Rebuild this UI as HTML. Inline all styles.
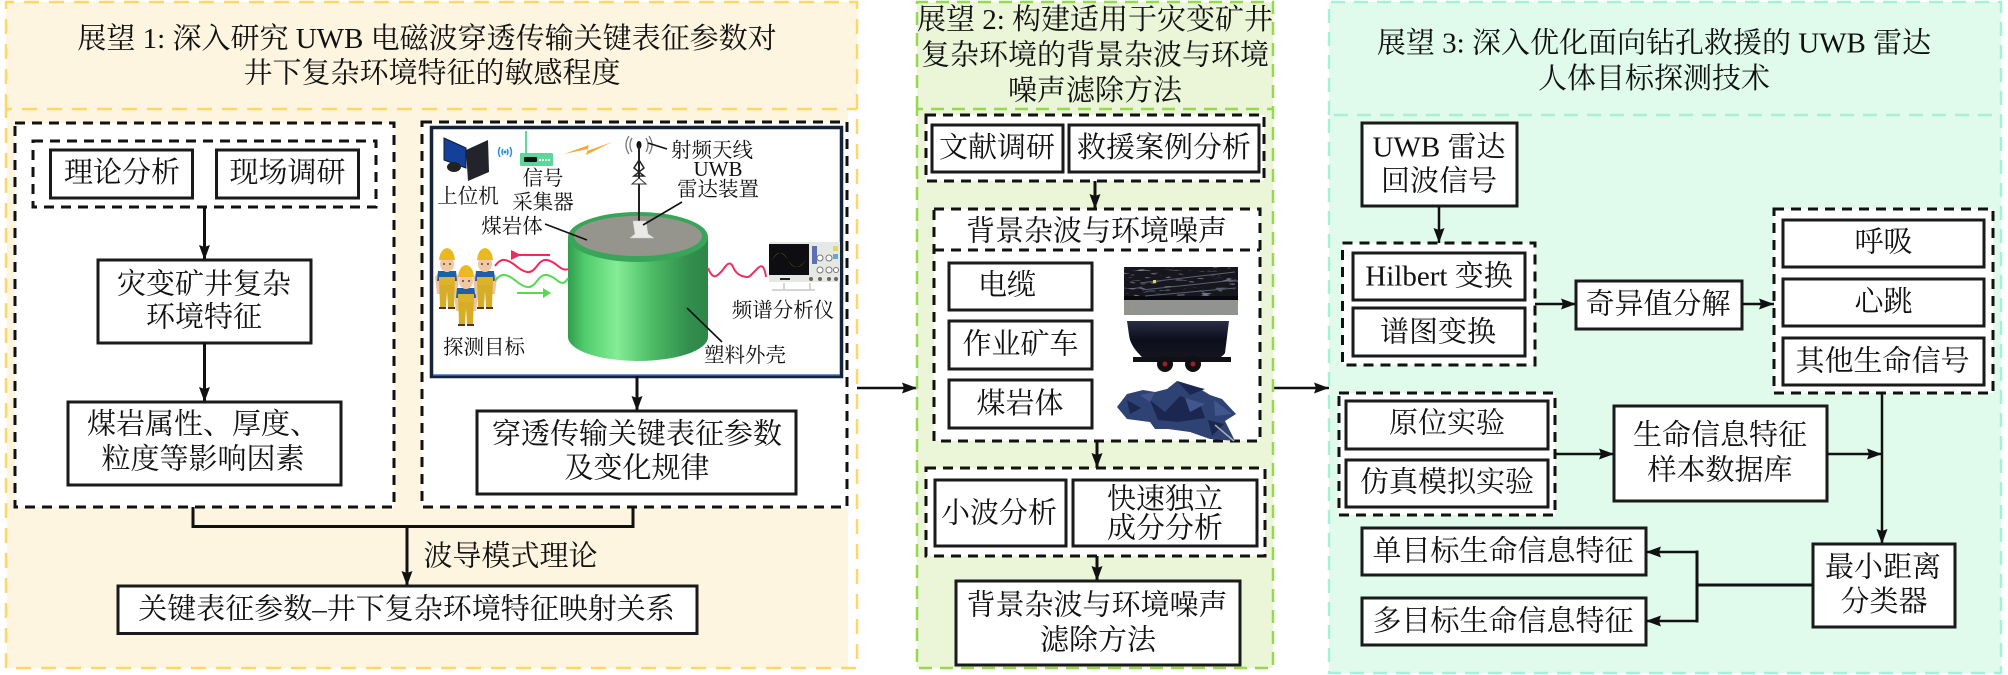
<!DOCTYPE html>
<html lang="zh">
<head>
<meta charset="utf-8">
<title>展望</title>
<style>
html,body{margin:0;padding:0;background:#fff;width:2008px;height:675px;overflow:hidden}
svg{display:block}
text{font-family:"Liberation Serif","Noto Serif CJK SC",serif;font-size:29px;fill:#111;text-anchor:middle;white-space:pre}
.s{font-size:20.5px}
.b{fill:#fff;stroke:#1a1a1a;stroke-width:3}
.d{fill:#fff;stroke:#111;stroke-width:3;stroke-dasharray:10 7}
.n{fill:none;stroke:#111;stroke-width:3}
.a{fill:none;stroke:#111;stroke-width:3;marker-end:url(#m)}
.a2{fill:none;stroke:#111;stroke-width:2.5;marker-end:url(#m)}
.l{fill:none;stroke:#111;stroke-width:1.6}
</style>
</head>
<body>
<svg xmlns="http://www.w3.org/2000/svg" width="2008" height="675" viewBox="0 0 2008 675">
<defs>
<marker id="m" markerUnits="userSpaceOnUse" markerWidth="15" markerHeight="12" refX="15" refY="6" orient="auto"><path d="M0 0.5L15 6L0 11.500L2 6Z" fill="#111"/></marker>
<marker id="mr" markerUnits="userSpaceOnUse" markerWidth="10" markerHeight="10" refX="2" refY="5" orient="auto"><path d="M10 0L0 5L10 10Z" fill="#f2285a"/></marker>
<linearGradient id="cyl" x1="0" x2="1" y1="0" y2="0">
<stop offset="0" stop-color="#2f9d4e"/><stop offset=".12" stop-color="#50cc6c"/><stop offset=".35" stop-color="#86ec96"/><stop offset=".6" stop-color="#4dbb66"/><stop offset=".85" stop-color="#33904f"/><stop offset="1" stop-color="#2d8548"/>
</linearGradient>
<filter id="gravel" x="0" y="0" width="100%" height="100%">
<feTurbulence type="fractalNoise" baseFrequency=".5" numOctaves="2" seed="4"/>
<feColorMatrix values="0 0 0 0 .3  0 0 0 0 .3  0 0 0 0 .27  2.600 0 0 0 -.8"/>
<feComposite in2="SourceGraphic" operator="in"/>
<feMerge><feMergeNode in="SourceGraphic"/><feMergeNode/></feMerge>
</filter>
<filter id="rock" x="0" y="0" width="100%" height="100%">
<feTurbulence type="fractalNoise" baseFrequency=".08 .4" numOctaves="2" seed="7"/>
<feColorMatrix values="0 0 0 0 .42  0 0 0 0 .45  0 0 0 0 .6  3 0 0 0 -1.900"/>
<feComposite in2="SourceGraphic" operator="in"/>
<feMerge><feMergeNode in="SourceGraphic"/><feMergeNode/></feMerge>
</filter>
<linearGradient id="cart" x1="0" x2="0" y1="0" y2="1"><stop offset="0" stop-color="#2b2e44"/><stop offset=".5" stop-color="#0d0e1c"/><stop offset="1" stop-color="#14151f"/></linearGradient>
<g id="p">
<path d="M-6 22L-9 20L-12 24L-10 41L-7 41ZM6 22L9 20L12 24L10 41L7 41Z" fill="#efc49f"/>
<path d="M-9 18H9L10 28H-10Z" fill="#1f5ea8"/>
<path d="M-8 25H8L7 54H1L0 38L-1 54H-7Z" fill="#d6ad26"/>
<path d="M-8 24H8V32H-8Z" fill="#dcb42c"/>
<rect x="-8" y="54" width="7" height="2" fill="#5b2d1e"/><rect x="1" y="54" width="7" height="2" fill="#5b2d1e"/>
<ellipse cx="0" cy="11" rx="7" ry="8" fill="#f2c7a4"/>
<path d="M-8 7Q-7 -4 0 -5Q7 -4 8 7Z" fill="#e8b921"/>
<circle cx="-3" cy="11" r=".9" fill="#222"/><circle cx="3" cy="11" r=".9" fill="#222"/>
</g>
</defs>

<!-- PANEL 1 -->
<rect x="6" y="2" width="851" height="107" fill="#fdf5e0"/>
<rect x="7" y="109" width="841" height="559" fill="#fdf5e0"/>
<path d="M6 109V2H857V668H6V109H857" fill="none" stroke="#ffd766" stroke-width="2.5" stroke-dasharray="15 10"/>
<text x="427" y="48">展望 1: 深入研究 UWB 电磁波穿透传输关键表征参数对</text>
<text x="432" y="82.500">井下复杂环境特征的敏感程度</text>

<rect class="d" x="15" y="123" width="379" height="384"/>
<rect class="d" x="33" y="141" width="343" height="66"/>
<rect class="b" x="50.500" y="150" width="142" height="48"/><text x="122" y="182">理论分析</text>
<rect class="b" x="216.500" y="150" width="142" height="48"/><text x="287.500" y="182">现场调研</text>
<path class="a" d="M204.500 207V260"/>
<rect class="b" x="98" y="260" width="213" height="83"/>
<text x="204" y="293.500">灾变矿井复杂</text><text x="204" y="326.500">环境特征</text>
<path class="a" d="M204.500 343V402"/>
<rect class="b" x="68" y="402" width="273" height="83"/>
<text x="203" y="433.500">煤岩属性、厚度、</text><text x="203" y="468.500">粒度等影响因素</text>

<rect class="d" x="422" y="122" width="425" height="385"/>
<!-- image -->
<rect x="431.500" y="127.500" width="410" height="249" fill="#fff" stroke="#15233a" stroke-width="3.500"/>
<path d="M433 375H840" stroke="#3a70b5" stroke-width="1.500"/>
<!-- monitor -->
<path d="M444 138L466 148V168L444 160Z" fill="#14409c" stroke="#101830"/>
<path d="M466 150L488 140L489 172L468 181Z" fill="#23232b"/>
<ellipse cx="454" cy="167" rx="7" ry="5" fill="#222"/>
<path d="M500 147Q497 152 500 157M503 149Q501 152 503 155M510 147Q513 152 510 157M507 149Q509 152 507 155" fill="none" stroke="#2f8fd6" stroke-width="1.500"/><circle cx="505" cy="152" r="1.500" fill="#2f8fd6"/>
<!-- router -->
<path d="M526 131V154" stroke="#62d69c" stroke-width="2"/>
<rect x="520" y="153" width="33" height="13" rx="1" fill="#5fd49b"/>
<rect x="524" y="157" width="13" height="5" rx="1" fill="#111"/>
<path d="M539 160H550" stroke="#e6fff2" stroke-width="2" stroke-dasharray="2 1"/>
<!-- lightning -->
<path d="M564 154L589 145L587 151L612 142L586 155L588 149Z" fill="#f2a93a"/>
<!-- cylinder -->
<path d="M568 237V337A70 24 0 0 0 708 337V237Z" fill="url(#cyl)"/>
<ellipse cx="638" cy="237" rx="70" ry="25" fill="#38a558"/>
<ellipse cx="638" cy="236" rx="64" ry="20" fill="#96968c" filter="url(#gravel)"/>
<!-- antenna -->
<path d="M632 138Q628 145 632 152M629 136Q623 145 629 154M646 138Q650 145 646 152M649 136Q655 145 649 154" fill="none" stroke="#777" stroke-width="1.300"/>
<ellipse cx="639" cy="145" rx="2.500" ry="4" fill="#111"/>
<path d="M639 145V222" stroke="#222" stroke-width="2"/>
<path d="M639 160L644 168L634 176L644 176L634 168Z" fill="none" stroke="#222" stroke-width="1.500"/>
<path d="M632 184L639 178L646 184Z" fill="#fff" stroke="#333"/>
<path d="M633 221H646L648 234L654 238H630L635 234Z" fill="#e9eae6" stroke="#ccc" stroke-width=".5"/>
<path class="l" d="M648 143L667 149" stroke-width="2"/>
<path class="l" d="M682 202L643 225"/>
<path class="l" d="M545 224L587 240"/>
<path class="l" d="M687 308L722 342"/>
<!-- people -->
<use href="#p" x="447" y="253"/>
<use href="#p" x="466" y="270"/>
<use href="#p" x="485" y="253"/>
<!-- waves -->
<path d="M495 266q5 -7 10 -6t11 6t11 6t10 -6t10 -6t11 6t10 3" fill="none" stroke="#f2285a" stroke-width="2"/>
<path d="M495 281q5 -7 10 -6t11 6t11 6t10 -6t10 -6t11 6t10 -3" fill="none" stroke="#52dc4e" stroke-width="2"/>
<path d="M550 255H519" stroke="#f2285a" stroke-width="2" marker-end="url(#mr)"/>
<path d="M517 293H545" stroke="#52dc4e" stroke-width="2"/><path d="M543 288L551 293L543 298Z" fill="#52dc4e"/>
<path d="M708 268q4 10 8 8t9 -9t8 0t9 9t8 0t8 -8t8 9" fill="none" stroke="#ea3260" stroke-width="2"/>
<!-- oscilloscope -->
<rect x="769" y="242" width="71" height="40" fill="#e6e8e4"/>
<rect x="769" y="244" width="40" height="31" fill="#0e0e12"/>
<path d="M772 260Q781 246 788 260T806 260Q797 274 788 260T772 260Z" fill="#6e5a18"/>
<rect x="812" y="246" width="5" height="18" fill="#5c6fb0"/>
<circle cx="820" cy="258" r="3" fill="#fff" stroke="#777"/><circle cx="829" cy="258" r="3" fill="#fff" stroke="#777"/><circle cx="820" cy="270" r="3" fill="#fff" stroke="#777"/><circle cx="829" cy="270" r="3" fill="#fff" stroke="#777"/><circle cx="836" cy="270" r="2.500" fill="#fff" stroke="#777"/>
<rect x="833" y="246" width="5" height="5" fill="#e9d84a"/><rect x="833" y="254" width="5" height="5" fill="#62a8df"/>
<circle cx="811" cy="279" r="2" fill="#666"/><circle cx="820" cy="279" r="2" fill="#666"/><circle cx="829" cy="279" r="2" fill="#666"/><circle cx="836" cy="279" r="2" fill="#666"/>
<rect x="780" y="278" width="10" height="2" fill="#222"/>
<path d="M772 290H815M784 283V290M810 283V290" stroke="#c7c9c5" stroke-width="1.500" fill="none"/>
<!-- image labels -->
<text class="s" x="712" y="157">射频天线</text>
<text class="s" x="718" y="176" style="font-size:21px">UWB</text>
<text class="s" x="718" y="196">雷达装置</text>
<text class="s" x="468" y="203">上位机</text>
<text class="s" x="543" y="185">信号</text>
<text class="s" x="543" y="209">采集器</text>
<text class="s" x="512" y="233">煤岩体</text>
<text class="s" x="484" y="354">探测目标</text>
<text class="s" x="745" y="362">塑料外壳</text>
<text class="s" x="783" y="317">频谱分析仪</text>

<path class="a" d="M637 376V411"/>
<rect class="b" x="477" y="411" width="319" height="83"/>
<text x="637" y="443.500">穿透传输关键表征参数</text><text x="637" y="477.500">及变化规律</text>

<path class="n" d="M193 507V526.500H633V507"/>
<path class="a" d="M407 526.500V586"/>
<text x="510.500" y="565.500">波导模式理论</text>
<rect class="b" x="118" y="586" width="579" height="47.500"/>
<text x="406.500" y="618.500">关键表征参数–井下复杂环境特征映射关系</text>

<!-- between panels -->
<path class="a2" d="M857 388H917"/>
<path class="a2" d="M1273 388H1329"/>

<!-- PANEL 2 -->
<rect x="917" y="2" width="356" height="666" fill="#ebf5d8"/>
<path d="M917 109V2H1273V668H917V109H1273" fill="none" stroke="#96d84e" stroke-width="2.500" stroke-dasharray="13 8"/>
<text x="1095" y="29">展望 2: 构建适用于灾变矿井</text>
<text x="1095" y="64.500">复杂环境的背景杂波与环境</text>
<text x="1095" y="100">噪声滤除方法</text>

<rect class="d" x="926" y="115" width="338" height="66"/>
<rect class="b" x="932" y="125" width="131" height="47"/><text x="997" y="157">文献调研</text>
<rect class="b" x="1069" y="125" width="190" height="47"/><text x="1164" y="157">救援案例分析</text>
<path class="a" d="M1095 181V209"/>
<rect class="d" x="934" y="209" width="326" height="232"/>
<path d="M934 250H1260" stroke="#111" stroke-width="3" stroke-dasharray="10 7"/>
<text x="1096.500" y="240.500">背景杂波与环境噪声</text>
<rect class="b" x="949" y="263" width="143" height="47"/><text x="1007" y="294.500">电缆</text>
<rect class="b" x="949" y="321" width="143" height="48"/><text x="1020.500" y="353.500">作业矿车</text>
<rect class="b" x="949" y="380" width="143" height="48"/><text x="1020" y="413">煤岩体</text>
<!-- tunnel -->
<rect x="1124" y="267" width="114" height="31" fill="#14161f" filter="url(#rock)"/>
<rect x="1124" y="296" width="114" height="4" fill="#08090f"/>
<rect x="1124" y="300" width="114" height="15" fill="#8d9390" filter="url(#gravel)"/>
<path d="M1140 283L1235 272M1142 290L1236 280M1145 296L1236 288" stroke="#5a6078" stroke-width="1"/>
<rect x="1153" y="280" width="3" height="3" fill="#e6dc2a"/>
<!-- cart -->
<path d="M1127 321H1229L1225 353Q1222 358 1216 358H1146Q1142 358 1140 355Q1130 345 1129 335Z" fill="url(#cart)"/>
<path d="M1133 357H1231V362H1133Z" fill="#0f1018"/>
<circle cx="1165" cy="364" r="8" fill="#101014"/><circle cx="1165" cy="364" r="2.500" fill="#9d1f25"/>
<circle cx="1193" cy="364" r="8" fill="#101014"/><circle cx="1193" cy="364" r="2.500" fill="#9d1f25"/>
<!-- coal -->
<path d="M1117 407L1127 394L1143 390L1155 392L1167 389L1177 381L1197 387L1210 395L1222 399L1236 414L1225 421L1235 441L1210 439L1190 432L1168 429L1155 429L1150 422L1127 419Z" fill="#2f4274"/>
<path d="M1127 400L1141 408L1130 414ZM1150 400L1165 412L1180 396L1200 404L1205 418L1178 422L1158 420ZM1177 381L1190 395L1205 389L1197 387ZM1208 420L1224 424L1212 436Z" fill="#1b2750"/>
<path d="M1185 398L1205 404L1190 412ZM1140 395L1155 392L1150 402ZM1214 400L1232 414L1215 416Z" fill="#41568c"/>
<path d="M1215 425L1234 441" stroke="#a8aeb0" stroke-width="1.500"/>

<path class="a" d="M1097 441V468"/>
<rect class="d" x="926" y="468" width="339" height="88"/>
<rect class="b" x="935" y="480" width="131" height="66"/><text x="999" y="522.500">小波分析</text>
<rect class="b" x="1073" y="480" width="184" height="66"/>
<text x="1165" y="508.500">快速独立</text><text x="1165" y="537.500">成分分析</text>
<path class="a" d="M1097 556V581"/>
<rect class="b" x="956" y="581" width="284" height="84"/>
<text x="1097" y="614.500">背景杂波与环境噪声</text><text x="1098" y="649.500">滤除方法</text>

<!-- PANEL 3 -->
<rect x="1329" y="2" width="672" height="671" fill="#e0fbec"/>
<path d="M1329 115V2H2001V673H1329V115H2001" fill="none" stroke="#a5f0d6" stroke-width="2.500" stroke-dasharray="14 9"/>
<text x="1654" y="52.500">展望 3: 深入优化面向钻孔救援的 UWB 雷达</text>
<text x="1654" y="88">人体目标探测技术</text>

<rect class="b" x="1362" y="123" width="155" height="83"/>
<text x="1439" y="156.500">UWB 雷达</text><text x="1439" y="190.500">回波信号</text>
<path class="a2" d="M1439 206V243"/>
<rect class="d" x="1342.500" y="243" width="192.500" height="122"/>
<rect class="b" x="1353" y="253" width="172" height="47"/><text x="1439" y="285.500">Hilbert 变换</text>
<rect class="b" x="1353" y="308" width="172" height="48"/><text x="1438" y="341.500">谱图变换</text>
<path class="a2" d="M1535 304H1576"/>
<rect class="b" x="1576" y="281" width="166" height="48"/><text x="1658" y="313.500">奇异值分解</text>
<path class="a2" d="M1742 304H1774"/>
<rect class="d" x="1774" y="209" width="219" height="184"/>
<rect class="b" x="1783" y="220" width="201" height="47"/><text x="1883.500" y="251.500">呼吸</text>
<rect class="b" x="1783" y="279" width="201" height="47"/><text x="1883.500" y="311">心跳</text>
<rect class="b" x="1783" y="338" width="201" height="47"/><text x="1882.500" y="370.500">其他生命信号</text>
<rect class="d" x="1339" y="393" width="216" height="122"/>
<rect class="b" x="1346" y="401" width="202" height="48"/><text x="1447" y="432.500">原位实验</text>
<rect class="b" x="1346" y="460" width="202" height="47"/><text x="1447" y="491.500">仿真模拟实验</text>
<path class="a2" d="M1555 454H1614"/>
<rect class="b" x="1614" y="406" width="213" height="95"/>
<text x="1720" y="444.500">生命信息特征</text><text x="1720" y="479.500">样本数据库</text>
<path class="a2" d="M1827 454H1882"/>
<path class="a2" d="M1882 393V544"/>
<rect class="b" x="1813" y="544" width="142" height="83"/>
<text x="1883" y="576.500">最小距离</text><text x="1884" y="611">分类器</text>
<rect class="b" x="1362" y="528" width="284" height="47"/><text x="1503" y="560.500">单目标生命信息特征</text>
<rect class="b" x="1362" y="598" width="284" height="47"/><text x="1503" y="630.500">多目标生命信息特征</text>
<path class="n" d="M1813 585H1697" stroke-width="2.500"/>
<path class="a2" d="M1697 552H1646"/>
<path class="a2" d="M1697 621H1646"/>
<path class="n" d="M1697 550.500V622.500" stroke-width="2.500"/>
</svg>
</body>
</html>
